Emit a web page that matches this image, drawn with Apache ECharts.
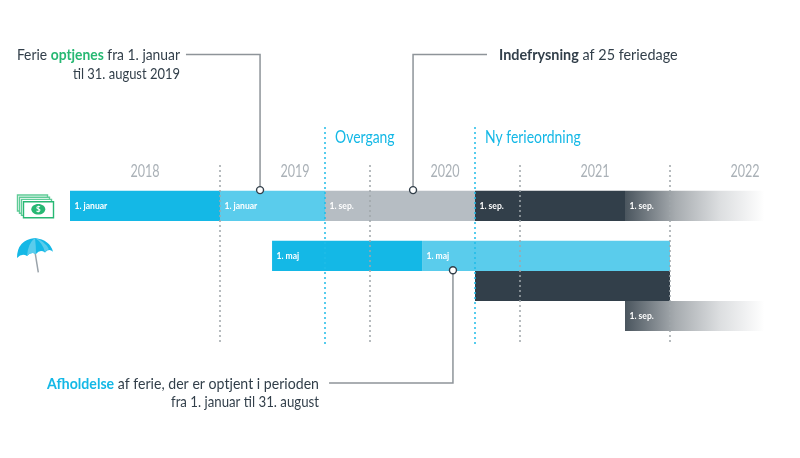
<!DOCTYPE html>
<html><head><meta charset="utf-8">
<style>html,body{margin:0;padding:0;background:#fff}#c{width:800px;height:458px}</style>
<script src="https://cdn.jsdelivr.net/npm/echarts@6/dist/echarts.min.js"></script></head>
<body><div id="c"></div>
<script>
// Timeline data: x values are fractional years, y values are lane units
const yearLabels = [2018, 2019, 2020, 2021, 2022];
const segStart = [2018, 2019, 2019.7, 2020.7, 2021.7, 2019.347, 2020.347, 2020.7, 2021.7];
const segEnd   = [2019, 2019.7, 2020.7, 2021.7, 2022.63, 2020.347, 2022, 2022, 2022.63];
const segTop   = [-0.01, -0.01, -0.01, -0.01, -0.01, 1.656, 1.656, 2.667, 3.667];
const segBottom= [1, 1, 1, 1, 1, 2.667, 2.667, 3.667, 4.667];
const segTone  = ['blue', 'sky', 'grey', 'dark', 'fade', 'blue', 'sky', 'dark', 'fade'];
const segLabel = ['1. januar', '1. januar', '1. sep.', '1. sep.', '1. sep.', '1. maj', '1. maj', '', '1. sep.'];
const guideX    = [2019, 2019.7, 2020, 2020.7, 2021, 2022];
const guideKind = ['year', 'phase', 'year', 'phase', 'year', 'year'];
const calloutX  = [2019.267, 2020.287, 2020.553];
const calloutTurnY = [-4.55, -4.55, 6.4];
const calloutEndX  = [2018.773, 2020.78, 2019.727];
const calloutDotY  = [-0.03, -0.03, 2.64];

const INK = '#323f4a', FONT = 'Lato,sans-serif';
const tones = {
  blue: '#14b8e6', sky: '#5accec', grey: '#b6bdc3', dark: '#323f4a',
  fade: {type: 'linear', x: 0, y: 0, x2: 1, y2: 0, colorStops: [
    {offset: 0, color: '#4a555e'}, {offset: .36, color: '#a6abaf'},
    {offset: .68, color: '#dcdee0'}, {offset: 1, color: '#ffffff'}]}
};
const segData = segStart.map((s, i) => [s, segEnd[i], segTop[i], segBottom[i]]);
const guideData = guideX.map(x => [x]);
const calloutData = calloutX.map((x, i) => [x, calloutTurnY[i], calloutEndX[i], calloutDotY[i]]);
const yearData = yearLabels.map(y => [y + .5]);

const rich = {
  n: {fontFamily: FONT, fontSize: 16, fill: INK, lineHeight: 19},
  g: {fontFamily: FONT, fontSize: 16, fill: '#27b873', fontWeight: 'bold', lineHeight: 19},
  b: {fontFamily: FONT, fontSize: 16, fill: '#14b8e6', fontWeight: 'bold', lineHeight: 19},
  d: {fontFamily: FONT, fontSize: 16, fill: INK, fontWeight: 'bold', lineHeight: 19}
};
const note = (i, x, y) => ({type: 'rect', shape: {x, y, width: 30, height: 16},
  style: {fill: '#fff', stroke: i === 3 ? '#27b873' : '#5fcb97', lineWidth: 1.4}});

const option = {
  animation: false,
  backgroundColor: '#fff',
  grid: {left: 70, width: 700, top: 191, height: 140},
  xAxis: {type: 'value', position: 'top', min: 2018, max: 2018 + 700 / 150, show: false},
  yAxis: {type: 'value', inverse: true, min: 0, max: 140 / 30, show: false},
  series: [
    {type: 'custom', z: 2, data: segData, encode: {x: [0, 1], y: [2, 3]}, silent: true,
     renderItem(p, api) {
       const a = api.coord([api.value(0), api.value(2)]), b = api.coord([api.value(1), api.value(3)]);
       const label = segLabel[p.dataIndex];
       const children = [{type: 'rect', shape: {x: a[0], y: a[1], width: b[0] - a[0], height: b[1] - a[1]},
         style: {fill: tones[segTone[p.dataIndex]]}}];
       if (label) children.push({type: 'text', x: a[0] + 4.5, y: (a[1] + b[1]) / 2, scaleX: .95,
         style: {text: label, fill: '#fff', font: 'bold 9px ' + FONT, verticalAlign: 'middle'}});
       return {type: 'group', children};
     }},
    {type: 'custom', z: 3, data: guideData, encode: {x: 0}, silent: true,
     renderItem(p, api) {
       const phase = guideKind[p.dataIndex] === 'phase';
       const top = api.coord([api.value(0), phase ? -2.13 : -0.87]), bot = api.coord([api.value(0), 5.1]);
       return {type: 'line', shape: {x1: top[0], y1: top[1], x2: bot[0], y2: bot[1]},
         style: {stroke: phase ? '#1fbce8' : '#a0a6ab', lineWidth: 1.5, lineDash: [2, 3]}};
     }},
    {type: 'custom', z: 4, data: calloutData, encode: {x: [0, 2], y: [1, 3]}, silent: true,
     renderItem(p, api) {
       const x = api.value(0), turn = api.coord([x, api.value(1)]);
       const end = api.coord([api.value(2), api.value(1)]), dot = api.coord([x, api.value(3)]);
       return {type: 'group', children: [
         {type: 'polyline', shape: {points: [end, turn, dot]}, style: {stroke: '#8e9499', lineWidth: 1.5, fill: null}},
         {type: 'circle', shape: {cx: dot[0], cy: dot[1], r: 3.5}, style: {fill: '#fff', stroke: INK, lineWidth: 1.4}}
       ]};
     }},
    {type: 'custom', z: 1, data: yearData, encode: {x: 0}, silent: true,
     renderItem(p, api) {
       const c = api.coord([api.value(0), -0.65]);
       return {type: 'text', x: c[0], y: c[1], scaleX: .74,
         style: {text: String(yearLabels[p.dataIndex]), fill: '#aab1b7', font: '17px ' + FONT, align: 'center', verticalAlign: 'middle'}};
     }},
    {type: 'custom', z: 5, data: [[2018]], encode: {x: 0}, silent: true,
     renderItem() {
       const path = (d, fill) => ({type: 'path', shape: {pathData: d}, style: {fill}});
       return {type: 'group', children: [
         {type: 'line', shape: {x1: 35, y1: 252, x2: 38.3, y2: 272.3}, style: {stroke: '#9aa3aa', lineWidth: 1.5}},
         path('M17 258 Q17 240 35 238 Q50 240 53 251.7 Q49 248 45 252.5 Q40 249 36 254 Q31 251 27 256 Q22 252.5 17 258 Z', '#14b8e6'),
         path('M35 238 Q28 243 27 256 Q31 251 36 254 Q36 246 35 238 Z', '#5accec'),
         path('M35 238 Q43 243 45 252.5 Q47 249 49 249.5 Q45 241 35 238 Z', '#5accec')
       ]};
     }}
  ],
  graphic: [
    {type: 'text', x: 180, y: 45, scaleX: .866, style: {text: '{n|Ferie }{g|optjenes}{n| fra 1. januar}', align: 'right', rich}},
    {type: 'text', x: 180, y: 64, scaleX: .81, style: {text: '{n|til 31. august 2019}', align: 'right', rich}},
    {type: 'text', x: 499, y: 45, scaleX: .9, style: {text: '{d|Indefrysning}{n| af 25 feriedage}', align: 'left', rich}},
    {type: 'text', x: 319, y: 374, scaleX: .883, style: {text: '{b|Afholdelse}{n| af ferie, der er optjent i perioden}', align: 'right', rich}},
    {type: 'text', x: 319, y: 392, scaleX: .827, style: {text: '{n|fra 1. januar til 31. august}', align: 'right', rich}},
    {type: 'text', x: 335, y: 129, scaleX: .82, style: {text: 'Overgang', fill: '#14b8e6', font: '17px ' + FONT}},
    {type: 'text', x: 485, y: 129, scaleX: .82, style: {text: 'Ny ferieordning', fill: '#14b8e6', font: '17px ' + FONT}},
    note(0, 17.5, 195), note(1, 19.5, 197.2), note(2, 21.5, 199.4), note(3, 23.5, 201.7),
    {type: 'ellipse', shape: {cx: 38.3, cy: 209.3, rx: 7, ry: 5.3}, style: {fill: '#27b873'}},
    {type: 'text', x: 38.3, y: 209.5, style: {text: '$', fill: '#fff', font: 'bold 8px ' + FONT, align: 'center', verticalAlign: 'middle'}}
  ]
};
echarts.init(document.getElementById('c'), null, {renderer: 'canvas'}).setOption(option);
</script></body></html>
